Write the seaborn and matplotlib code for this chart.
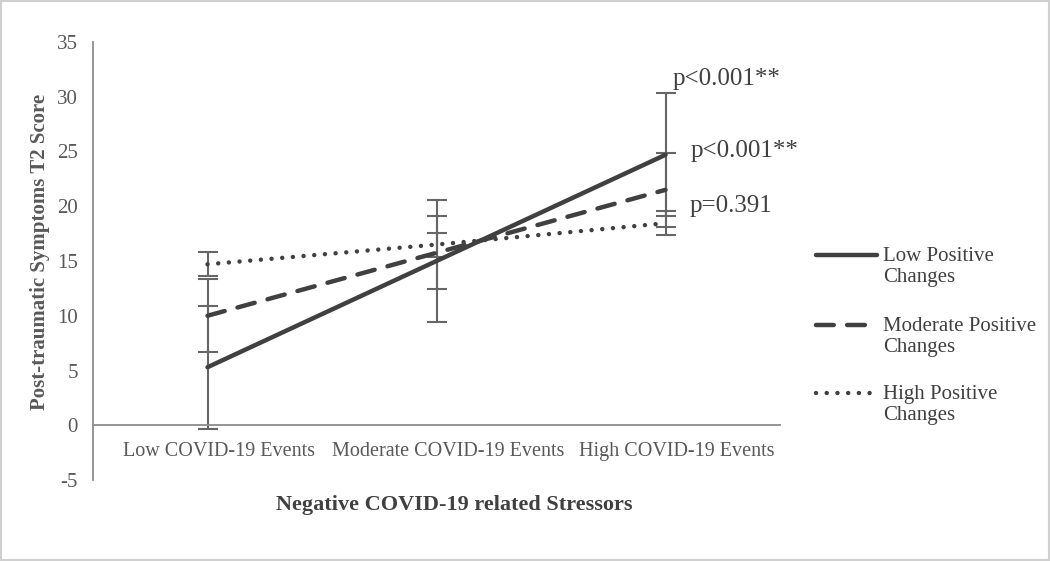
import matplotlib
matplotlib.use("Agg")
import matplotlib.pyplot as plt
import matplotlib.transforms as mtransforms
from matplotlib.lines import Line2D
import seaborn as sns
import pandas as pd
import numpy as np

# data
categories = ["Low COVID-19 Events", "Moderate COVID-19 Events", "High COVID-19 Events"]
series_names = ["Low Positive\nChanges", "Moderate Positive\nChanges", "High Positive\nChanges"]
low_pc = [5.3, 15.0, 24.7]
moderate_pc = [10.0, 15.75, 21.5]
high_pc = [14.7, 16.5, 18.45]
errors = [5.6, 3.35, 1.1]
p_labels = ["p<0.001**", "p<0.001**", "p=0.391"]
p_pos = [(2.03, 31.1), (2.11, 24.5), (2.105, 19.5)]

sns.set_theme(style="white")
plt.rcParams['font.family'] = ['Liberation Serif', 'DejaVu Serif']
plt.rcParams['axes.unicode_minus'] = False

dark = '#404040'
grey = '#595959'
W, H = 1050, 561

fig, ax = plt.subplots(figsize=(10.5, 5.61), dpi=100)
fig.subplots_adjust(left=93 / W, right=780 / W, top=1 - 42 / H, bottom=1 - 480 / H)

styles = [
    dict(linestyle='-', solid_capstyle='round'),
    dict(dashes=(4, 3), dash_capstyle='round'),
    dict(dashes=(0.01, 2.4), dash_capstyle='round'),
]
x = np.arange(len(categories))
for vals, err, st in zip([low_pc, moderate_pc, high_pc], errors, styles):
    df = pd.DataFrame({'x': x, 'y': vals})
    sns.lineplot(data=df, x='x', y='y', ax=ax, color=dark, lw=3.2, legend=False, **st)
    ax.errorbar(x, vals, yerr=err, fmt='none', ecolor='#666666', elinewidth=1.5,
                capsize=7, capthick=1.5, zorder=1)

for txt, (px, py) in zip(p_labels, p_pos):
    ax.text(px, py, txt, ha='left', va='baseline', fontsize=18, color=dark)

ax.spines['top'].set_visible(False)
ax.spines['right'].set_visible(False)
ax.spines['bottom'].set_position(('data', 0))
for s in ['left', 'bottom']:
    ax.spines[s].set_color('#8c8c8c')
    ax.spines[s].set_linewidth(1.3)

ax.set_xlim(-0.5, 2.5)
ax.set_ylim(-5, 35)
ax.set_yticks(range(-5, 36, 5))
ax.set_xticks(x)
ax.set_xticklabels(categories)
ax.tick_params(axis='both', length=0, colors=grey)
ax.tick_params(axis='x', pad=12, labelsize=14.5)
ax.tick_params(axis='y', pad=11, labelsize=15)

# category labels sit a little right of the category centre in the original
shift = mtransforms.ScaledTranslation(0.115, 0, fig.dpi_scale_trans)
for lbl in ax.xaxis.get_majorticklabels():
    lbl.set_transform(lbl.get_transform() + shift)

ax.set_xlabel("")
ax.set_ylabel("Post-traumatic Symptoms T2 Score", fontsize=15, fontweight='bold', color=grey)
ax.yaxis.set_label_coords(-0.063, 0.52)
fig.text(454 / W, 1 - 505 / H, "Negative COVID-19 related Stressors", ha='center', va='center',
         fontsize=16, fontweight='bold', color=dark)

# legend: handle sits beside the first line of each two-line label
first_line_y = [255, 325, 393]
for name, st, yy in zip(series_names, styles, first_line_y):
    fy = 1 - yy / H
    fig.add_artist(Line2D([816 / W, 877 / W], [fy, fy], transform=fig.transFigure,
                          color=dark, lw=3.2, **st))
    fig.text(883 / W, 1 - (yy + 12) / H, name, ha='left', va='center', fontsize=15,
             color=dark, linespacing=1.15)

fig.patches.append(plt.Rectangle((0.001, 0.001), 0.998, 0.998, transform=fig.transFigure,
                                 fill=False, edgecolor='#d0d0d0', lw=1.5))

fig.savefig("out.png", dpi=100)
